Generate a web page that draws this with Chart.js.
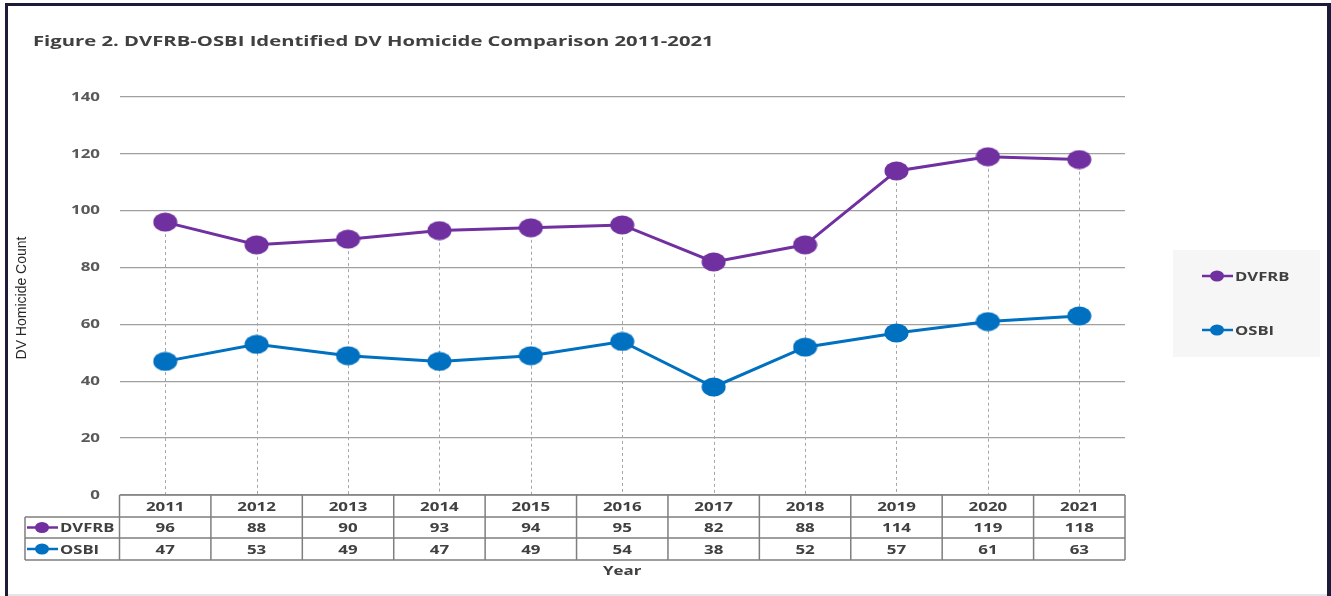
<!DOCTYPE html>
<html>
<head>
<meta charset="utf-8">
<script src="https://cdn.jsdelivr.net/npm/chart.js@4.4.1/dist/chart.umd.min.js"></script>
<style>
  html, body { margin: 0; padding: 0; background: #ffffff; }
  #wrap { position: relative; width: 1331px; height: 596px; }
</style>
</head>
<body>
<div id="wrap"><canvas id="chart" width="1331" height="596"></canvas></div>
<script>
// data
const years = ['2011', '2012', '2013', '2014', '2015', '2016', '2017', '2018', '2019', '2020', '2021'];
const dvfrb = [96, 88, 90, 93, 94, 95, 82, 88, 114, 119, 118];
const osbi = [47, 53, 49, 47, 49, 54, 38, 52, 57, 61, 63];
const yTicks = [0, 20, 40, 60, 80, 100, 120, 140];

const purple = '#7030A0';
const blue = '#0070C0';
const textCol = '#404040';
const fam = '"Open Sans", "DejaVu Sans", sans-serif';

// the source figure's text is stretched sideways, so draw it that way
function wideText(ctx, txt, x, y, align, font, color, stretch) {
  ctx.save();
  ctx.font = font;
  ctx.fillStyle = color;
  ctx.textBaseline = 'middle';
  ctx.textAlign = align;
  ctx.translate(x, y);
  ctx.scale(stretch, 1);
  ctx.fillText(txt, 0, 0);
  ctx.restore();
}

// oval marker like the original
function oval(col, w, h) {
  const c = document.createElement('canvas');
  c.width = w; c.height = h;
  const g = c.getContext('2d');
  g.fillStyle = col;
  g.beginPath();
  g.ellipse(w / 2, h / 2, w / 2 - 0.5, h / 2 - 0.5, 0, 0, Math.PI * 2);
  g.fill();
  return c;
}

const extras = {
  id: 'extras',
  beforeDatasetsDraw(chart) {
    const ctx = chart.ctx;
    const area = chart.chartArea;
    // dashed drop lines from the DVFRB points
    ctx.save();
    ctx.strokeStyle = '#A6A6A6';
    ctx.lineWidth = 1;
    ctx.setLineDash([3, 3]);
    chart.getDatasetMeta(0).data.forEach(p => {
      ctx.beginPath();
      ctx.moveTo(Math.round(p.x) + 0.5, p.y);
      ctx.lineTo(Math.round(p.x) + 0.5, area.bottom);
      ctx.stroke();
    });
    ctx.restore();
  },
  afterDraw(chart) {
    const ctx = chart.ctx;
    const area = chart.chartArea;
    const x = chart.scales.x;
    const y = chart.scales.y;
    const bold13 = 'bold 13px ' + fam;
    ctx.save();

    // outer frame
    ctx.fillStyle = '#1c1c3a';
    ctx.fillRect(5, 3, 3, 593);
    ctx.fillRect(5, 3, 1326, 3);
    ctx.fillRect(1327, 3, 4, 593);
    ctx.fillStyle = '#e4e4ea';
    ctx.fillRect(8, 594, 1319, 2);

    // title
    wideText(ctx, 'Figure 2. DVFRB-OSBI Identified DV Homicide Comparison 2011-2021',
      33, 42, 'left', 'bold 15px ' + fam, textCol, 1.35);

    // y tick labels
    yTicks.forEach(v => {
      wideText(ctx, String(v), 100, y.getPixelForValue(v), 'right', bold13, '#595959', 1.3);
    });

    // y axis title
    ctx.save();
    ctx.translate(22, 298);
    ctx.rotate(-Math.PI / 2);
    ctx.font = '14px "Liberation Sans Narrow", "Liberation Sans", sans-serif';
    ctx.textAlign = 'center';
    ctx.textBaseline = 'middle';
    ctx.fillStyle = '#262626';
    ctx.fillText('DV Homicide Count', 0, 0);
    ctx.restore();

    // data table
    const step = x.getPixelForValue(1) - x.getPixelForValue(0);
    const left = area.left, right = area.right;
    const r0 = area.bottom, r1 = r0 + 22, r2 = r1 + 21, r3 = r2 + 22;
    const tabLeft = 25;
    ctx.strokeStyle = '#7f7f7f';
    ctx.lineWidth = 1.5;
    ctx.beginPath();
    ctx.moveTo(left, r0); ctx.lineTo(right, r0);
    ctx.moveTo(tabLeft, r1); ctx.lineTo(right, r1);
    ctx.moveTo(tabLeft, r2); ctx.lineTo(right, r2);
    ctx.moveTo(tabLeft, r3); ctx.lineTo(right, r3);
    ctx.moveTo(tabLeft, r1); ctx.lineTo(tabLeft, r3);
    for (let i = 0; i <= years.length; i++) {
      const cx = left + i * step;
      ctx.moveTo(cx, r0); ctx.lineTo(cx, r3);
    }
    ctx.stroke();

    years.forEach((yr, i) => {
      const cx = x.getPixelForValue(i);
      wideText(ctx, yr, cx, (r0 + r1) / 2 + 1, 'center', bold13, textCol, 1.3);
      wideText(ctx, String(dvfrb[i]), cx, (r1 + r2) / 2 + 1, 'center', bold13, textCol, 1.3);
      wideText(ctx, String(osbi[i]), cx, (r2 + r3) / 2 + 1, 'center', bold13, textCol, 1.3);
    });

    const key = (kx, ky, col, label) => {
      ctx.strokeStyle = col;
      ctx.lineWidth = 2.5;
      ctx.beginPath();
      ctx.moveTo(kx, ky); ctx.lineTo(kx + 31, ky);
      ctx.stroke();
      ctx.fillStyle = col;
      ctx.beginPath();
      ctx.ellipse(kx + 15, ky, 7, 5.5, 0, 0, Math.PI * 2);
      ctx.fill();
      wideText(ctx, label, kx + 33, ky + 1, 'left', bold13, textCol, 1.28);
    };
    key(27, (r1 + r2) / 2, purple, chart.data.datasets[0].label);
    key(27, (r2 + r3) / 2, blue, chart.data.datasets[1].label);

    // x axis title
    wideText(ctx, 'Year', (left + right) / 2, 571, 'center', bold13, textCol, 1.3);

    // legend box
    ctx.fillStyle = '#f6f6f6';
    ctx.fillRect(1173, 250, 147, 107);
    key(1202, 276, purple, chart.data.datasets[0].label);
    key(1202, 330, blue, chart.data.datasets[1].label);

    ctx.restore();
  }
};

new Chart(document.getElementById('chart'), {
  type: 'line',
  data: {
    labels: years,
    datasets: [{
      label: 'DVFRB',
      data: dvfrb,
      borderColor: purple,
      backgroundColor: purple,
      borderWidth: 3,
      pointStyle: oval(purple, 25, 20),
      pointRadius: 11,
      tension: 0
    }, {
      label: 'OSBI',
      data: osbi,
      borderColor: blue,
      backgroundColor: blue,
      borderWidth: 3,
      pointStyle: oval(blue, 25, 20),
      pointRadius: 11,
      tension: 0
    }]
  },
  options: {
    responsive: false,
    animation: false,
    events: [],
    layout: { padding: { left: 0, top: 97, right: 206, bottom: 101 } },
    plugins: {
      legend: { display: false },
      tooltip: { enabled: false },
      title: { display: false }
    },
    scales: {
      x: {
        type: 'category',
        offset: true,
        display: false,
        grid: { display: false }
      },
      y: {
        min: 0,
        max: 140,
        afterFit(scale) { scale.width = 119.5; },
        afterBuildTicks(scale) { scale.ticks = yTicks.map(v => ({ value: v })); },
        border: { display: false },
        grid: { color: '#a0a0a0', lineWidth: 1.3, drawTicks: false },
        ticks: { display: false }
      }
    }
  },
  plugins: [extras]
});
</script>
</body>
</html>
